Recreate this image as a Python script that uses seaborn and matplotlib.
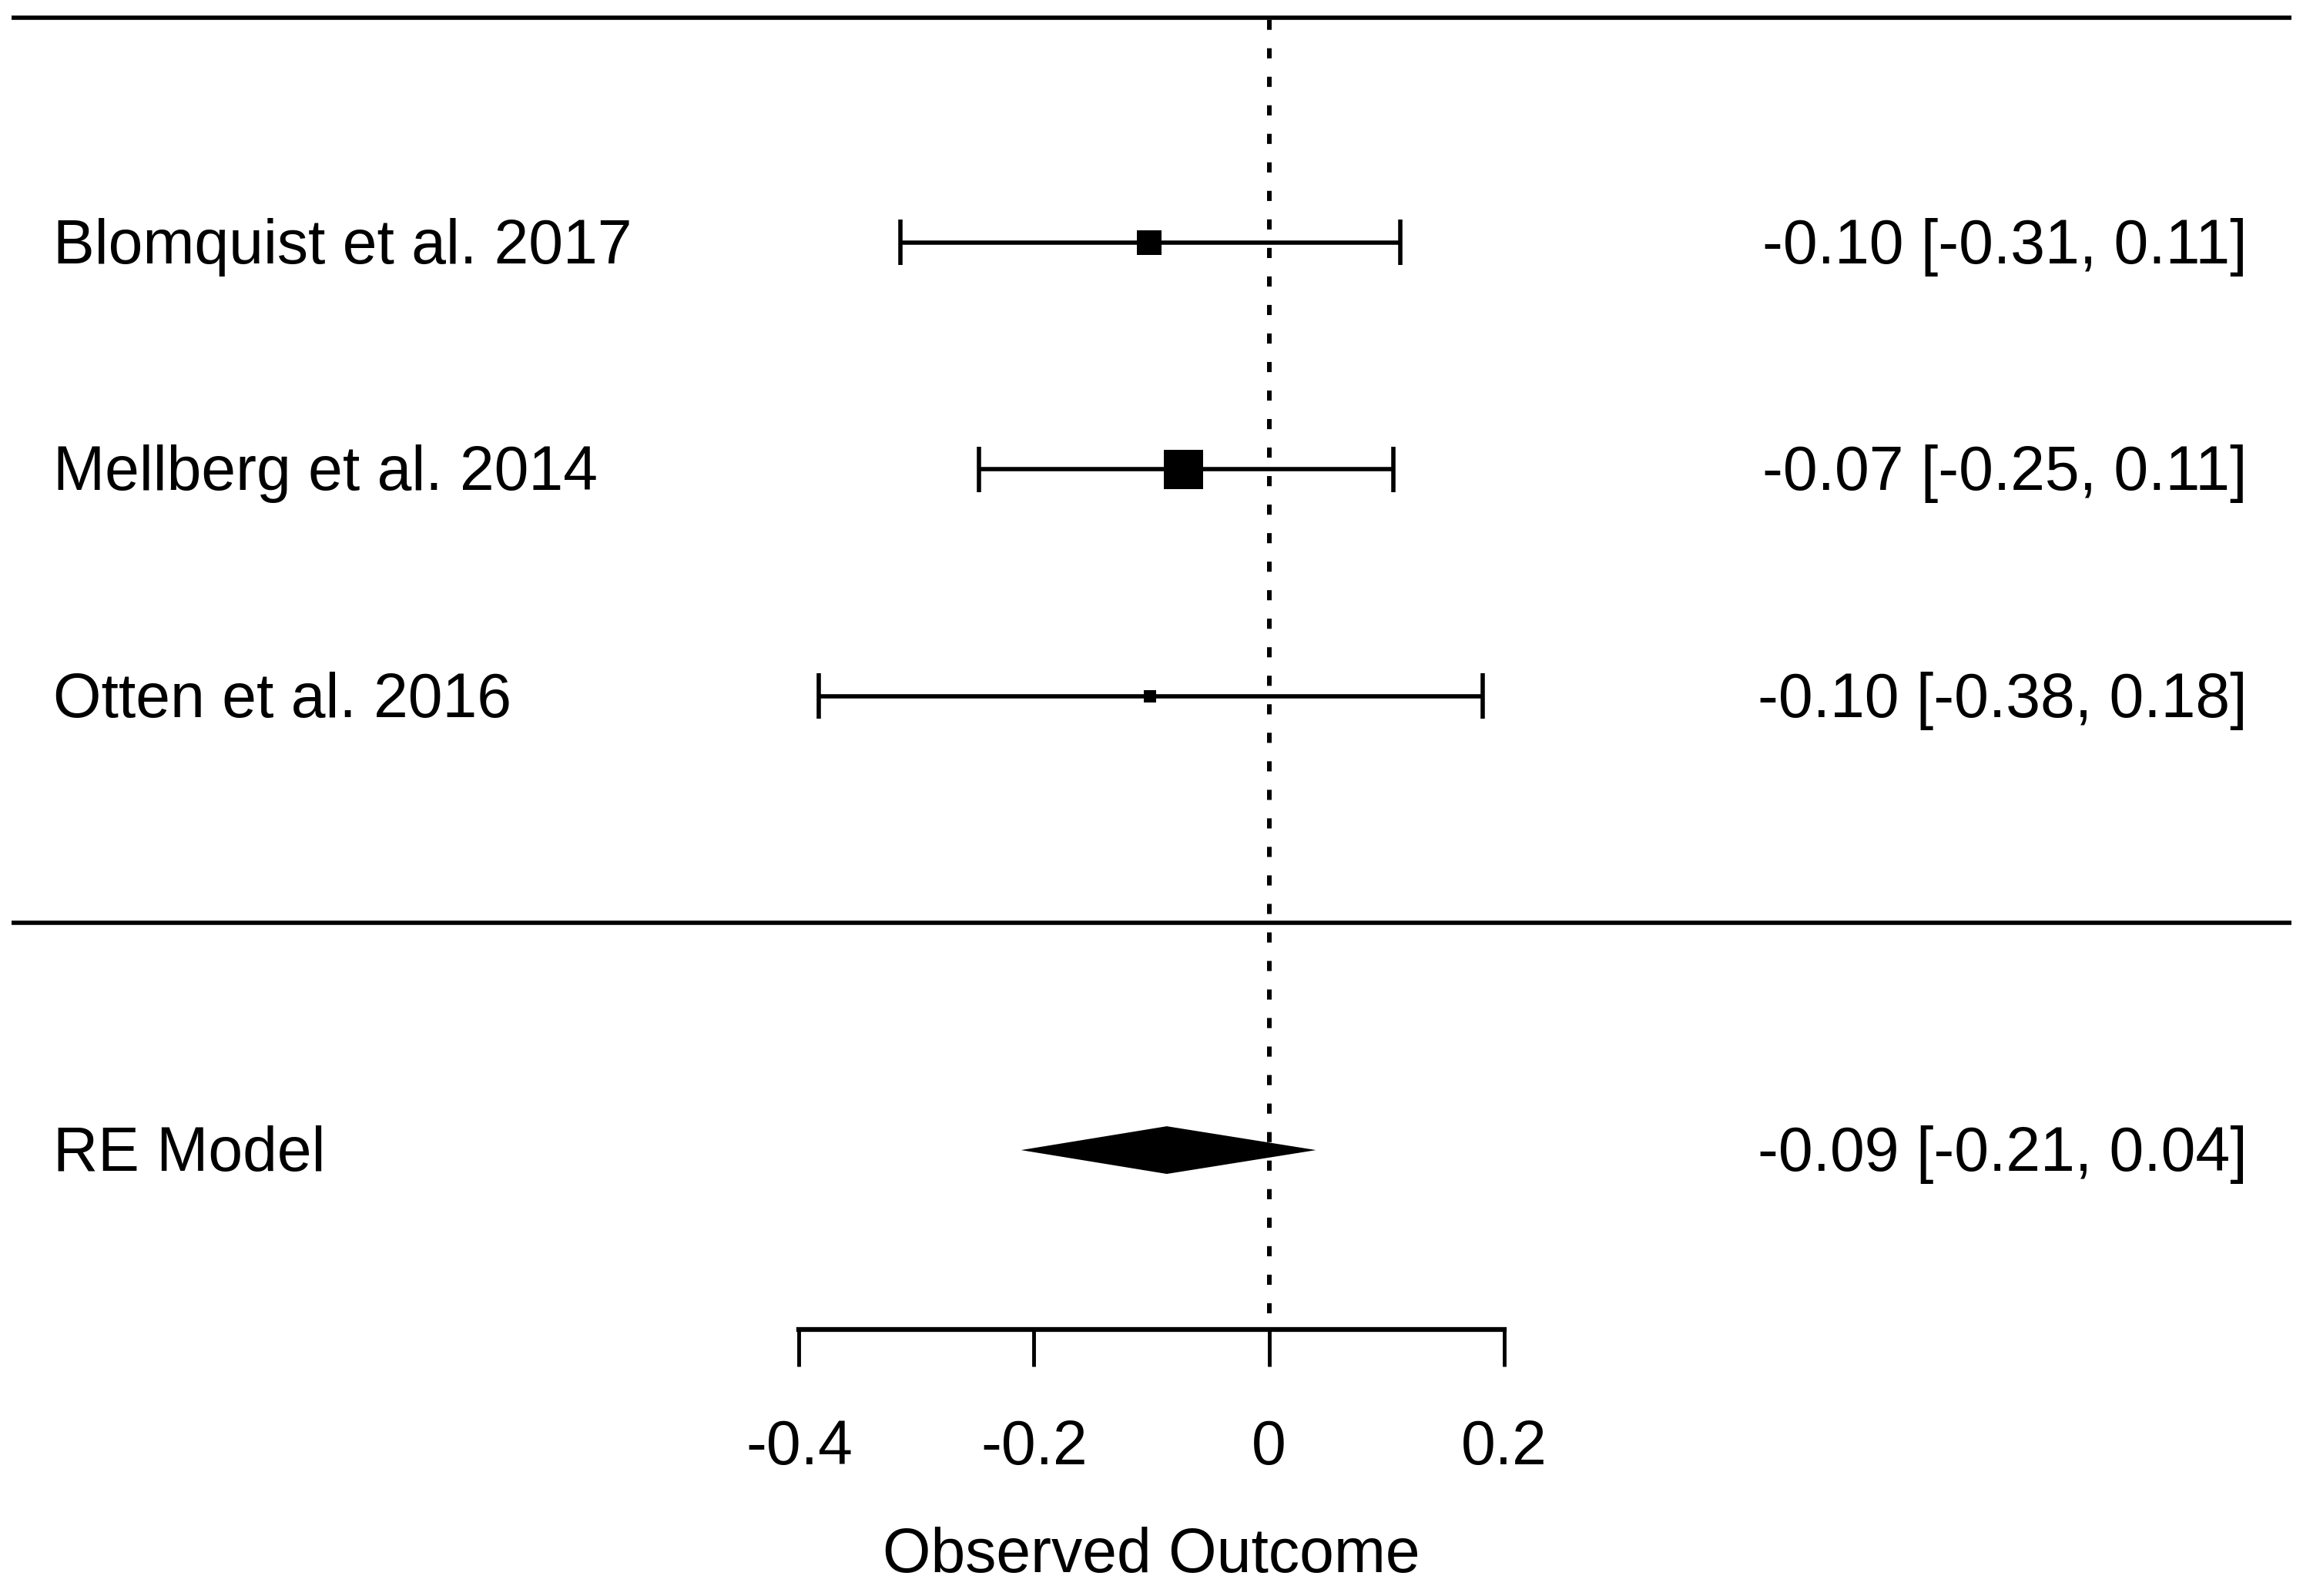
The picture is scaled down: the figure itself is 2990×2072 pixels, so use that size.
import numpy as np
import pandas as pd
import matplotlib
matplotlib.use("Agg")
import matplotlib.pyplot as plt
from matplotlib import font_manager
import seaborn as sns

studies = ["Blomquist et al. 2017", "Mellberg et al. 2014", "Otten et al. 2016"]
estimate = [-0.102, -0.073, -0.101]
ci_low = [-0.314, -0.247, -0.383]
ci_high = [0.112, 0.106, 0.182]

re_label = "RE Model"
re_est = -0.087
re_low = -0.211
re_high = 0.040

xticks = [-0.4, -0.2, 0, 0.2]
xtick_labels = ["-0.4", "-0.2", "0", "0.2"]
xlabel = "Observed Outcome"

# Stil
marker_px = [32, 51, 16]  # Seitenlänge der Quadrate in Pixel

sns.set_theme(style="white")
names = {f.name for f in font_manager.fontManager.ttflist}
if "Liberation Sans Narrow" in names:
    plt.rcParams["font.family"] = ["Liberation Sans Narrow", "Liberation Sans", "DejaVu Sans"]
    fs = 70
else:
    plt.rcParams["font.family"] = ["Liberation Sans", "DejaVu Sans"]
    fs = 58
plt.rcParams["axes.unicode_minus"] = False
plt.rcParams["text.color"] = "black"

k = len(studies)
rows = np.arange(k, 0, -1)
re_row = -1

fig = plt.figure(figsize=(29.9, 20.72), dpi=100)
ax = fig.add_axes([0, 0, 1, 1])
ax.set_xlim(-1.08, 0.88)
ax.set_ylim(-2.965, 4.068)

# Trennlinien oben und über dem Modell
ax.hlines([k + 1 - 0.01, 0], -1.07, 0.87, color="black", lw=4)

# Nulllinie
ax.vlines(0, -1.72, k + 1, color="black", lw=4.3, linestyles=(0, (2.2, 4)))

# Konfidenzintervalle
ax.hlines(rows, ci_low, ci_high, color="black", lw=4)
ax.vlines(ci_low, rows - 0.1, rows + 0.1, color="black", lw=4)
ax.vlines(ci_high, rows - 0.1, rows + 0.1, color="black", lw=4)

# Punktschätzer
df = pd.DataFrame({"x": estimate, "y": rows, "study": studies})
areas = [(p * 0.72) ** 2 for p in marker_px]
sns.scatterplot(data=df, x="x", y="y", size="study", sizes=dict(zip(studies, areas)),
                marker="s", color="black", linewidth=0, legend=False, ax=ax, zorder=3)

# RE-Modell Raute
h = 0.105
ax.fill([re_low, re_est, re_high, re_est], [re_row, re_row + h, re_row, re_row - h],
        color="black", lw=0)

# Beschriftungen
yoff = -0.02
for lab, r in zip(studies + [re_label], list(rows) + [re_row]):
    ax.text(-1.035, r + yoff, lab, ha="left", va="center", fontsize=fs, color="black")
for e, lo, hi, r in zip(estimate + [re_est], ci_low + [re_low], ci_high + [re_high],
                        list(rows) + [re_row]):
    ax.text(0.8325, r + yoff, f"{e:.2f} [{lo:.2f}, {hi:.2f}]", ha="right", va="center",
            fontsize=fs, color="black")

# x-Achse
sns.despine(ax=ax, left=True)
ax.spines["bottom"].set_position(("data", -1.79))
ax.spines["bottom"].set_bounds(xticks[0], xticks[-1])
ax.spines["bottom"].set_linewidth(4.5)
ax.spines["bottom"].set_color("black")
ax.set_xticks(xticks, xtick_labels)
ax.set_yticks([])
ax.tick_params(axis="x", direction="out", length=34.5, width=3.5, pad=49,
               labelsize=fs, colors="black", bottom=True)
ax.set_xlabel(xlabel, fontsize=fs, labelpad=46, color="black")
ax.set_ylabel("")

fig.savefig("out.png", dpi=100)
